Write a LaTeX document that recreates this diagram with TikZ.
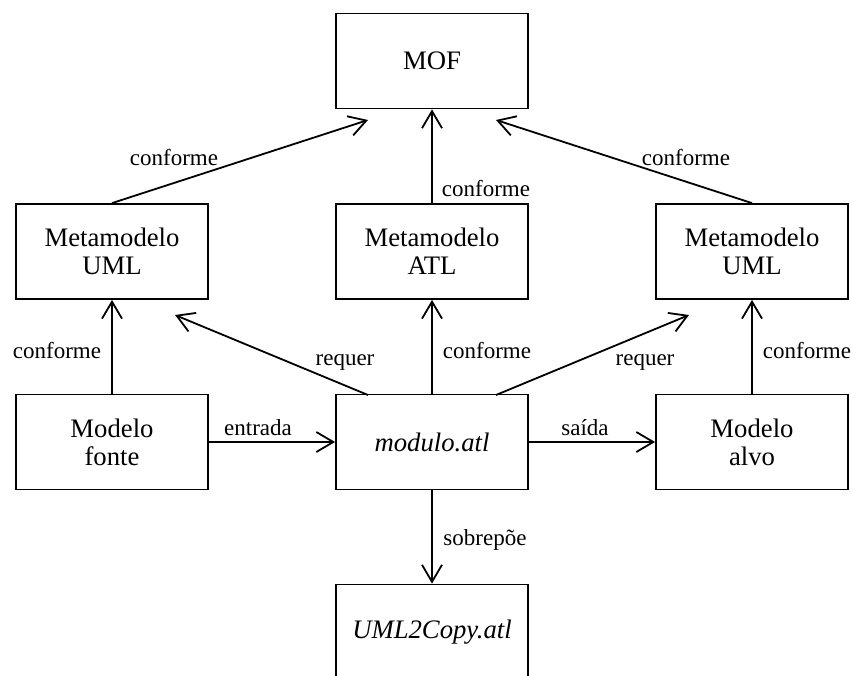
\documentclass[tikz,border=0pt]{standalone}
\usepackage{fontspec}
\setmainfont{Liberation Serif}
\usetikzlibrary{arrows.meta}

\tikzset{
  box/.style={draw, line width=1.8pt, minimum width=192pt, minimum height=95pt,
    inner sep=0pt, align=center, font=\fontsize{26.7}{28}\selectfont},
  conn/.style={line width=1.8pt, -{Straight Barb[length=17pt,width=20pt,line width=1.8pt]}},
  lbl/.style={anchor=base, inner sep=0pt, font=\fontsize{23}{25}\selectfont}
}

\begin{document}
\begin{tikzpicture}[x=1pt,y=-1pt]
  \useasboundingbox (0,0) rectangle (851,675);
  \clip (0,0) rectangle (851,675);

  % boxes
  \node[box] (mof)    at (432,61)    {MOF};
  \node[box] (umlA)   at (112,251.5) {Metamodelo\\UML};
  \node[box] (atl)    at (432,251.5) {Metamodelo\\ATL};
  \node[box] (umlB)   at (752,251.5) {Metamodelo\\UML};
  \node[box] (fonte)  at (112,442)   {Modelo\\fonte};
  \node[box] (modulo) at (432,442)   {\itshape modulo.atl};
  \node[box] (alvo)   at (752,442)   {Modelo\\alvo};
  \node[box] (copy)   at (432,632)   {\itshape UML2Copy.atl};

  % free ends of the slanted arrows
  \coordinate (mofL) at (368,120);
  \coordinate (mofR) at (496,120);
  \coordinate (umlAtip) at (175,315);
  \coordinate (umlBtip) at (689,315);
  \coordinate (modL) at (368,395);
  \coordinate (modR) at (496,395);

  % connectors
  \draw[conn] (umlA.north) -- (mofL);
  \draw[conn] (atl.north) -- (mof.south);
  \draw[conn] (umlB.north) -- (mofR);
  \draw[conn] (fonte.north) -- (umlA.south);
  \draw[conn] (modulo.north) -- (atl.south);
  \draw[conn] (alvo.north) -- (umlB.south);
  \draw[conn] (modL) -- (umlAtip);
  \draw[conn] (modR) -- (umlBtip);
  \draw[conn] (fonte.east) -- (modulo.west);
  \draw[conn] (modulo.east) -- (alvo.west);
  \draw[conn] (modulo.south) -- (copy.north);

  % labels
  \node[lbl] (l1)  at (174,165) {conforme};
  \node[lbl] (l2)  at (486,196) {conforme};
  \node[lbl] (l3)  at (686,165) {conforme};
  \node[lbl] (l4)  at (57,358)  {conforme};
  \node[lbl] (l5)  at (487,358) {conforme};
  \node[lbl] (l6)  at (807,358) {conforme};
  \node[lbl] (l7)  at (345,365) {requer};
  \node[lbl] (l8)  at (645,365) {requer};
  \node[lbl] (l9)  at (258,435) {entrada};
  \node[lbl] (l10) at (585,435) {saída};
  \node[lbl] (l11) at (485,545) {sobrepõe};
\end{tikzpicture}
\end{document}
